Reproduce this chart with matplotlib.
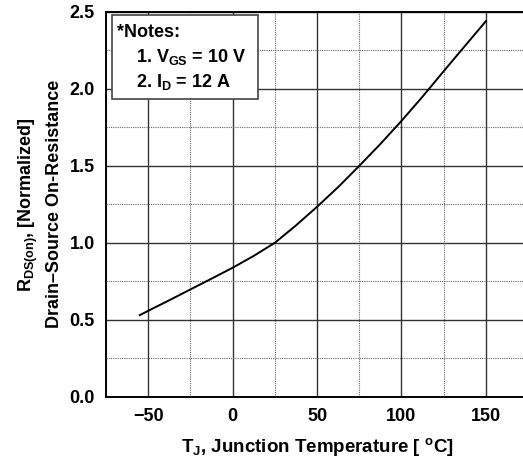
import matplotlib
matplotlib.use("Agg")
import matplotlib.pyplot as plt
from matplotlib.patches import Rectangle
from matplotlib.ticker import MultipleLocator

plt.rcParams["font.family"] = ["Liberation Sans", "DejaVu Sans"]
plt.rcParams["font.weight"] = "bold"
plt.rcParams["mathtext.fontset"] = "custom"
plt.rcParams["mathtext.bf"] = "Liberation Sans:bold"
plt.rcParams["mathtext.rm"] = "Liberation Sans:bold"
plt.rcParams["mathtext.default"] = "bf"

# values
temp = [-55, -50, -37.5, -25, -12.5, 0, 12.5, 25, 37.5, 50, 62.5, 75,
        87.5, 100, 112.5, 125, 137.5, 150]
rds = [0.53, 0.558, 0.627, 0.697, 0.767, 0.838, 0.915, 1.0, 1.113, 1.234,
       1.362, 1.5, 1.642, 1.792, 1.95, 2.115, 2.278, 2.44]

x_ticks = [-50, 0, 50, 100, 150]
y_ticks = [0.0, 0.5, 1.0, 1.5, 2.0, 2.5]

fig = plt.figure(figsize=(5.23, 4.61), dpi=100)
ax = fig.add_axes([0.2027, 0.1395, 0.807, 0.8345])

ax.plot(temp, rds, color="black", lw=1.4, solid_joinstyle="round")

ax.set_xlim(-75, 175)
ax.set_ylim(0, 2.5)
ax.set_xticks(x_ticks)
ax.set_yticks(y_ticks)
ax.set_yticklabels([f"{v:.1f}" for v in y_ticks])
ax.xaxis.set_minor_locator(MultipleLocator(25))
ax.yaxis.set_minor_locator(MultipleLocator(0.25))
ax.tick_params(which="both", length=0, labelsize=13, pad=8)
for lab in ax.get_xticklabels() + ax.get_yticklabels():
    lab.set_fontweight("bold")

ax.grid(which="major", color="#333333", lw=1.0, ls="-")
ax.grid(which="minor", color="#666666", lw=0.8, ls=(0, (1, 1)))
ax.set_axisbelow(True)
for s in ax.spines.values():
    s.set_linewidth(1.4)

ax.set_xlabel(r"T$_{J}$, Junction Temperature [ $^{o}$C]", fontsize=13.5,
              fontweight="bold", labelpad=8)
ax.set_ylabel("R$_{DS(on)}$, [Normalized]\nDrain\u2013Source On-Resistance",
              fontsize=13, fontweight="bold", labelpad=5, linespacing=1.45)

ax.add_patch(Rectangle((0.0135, 0.773), 0.3465, 0.219, transform=ax.transAxes,
                       fc="white", ec="#444444", lw=1.2, zorder=3))
ax.text(0.027, 0.935, "*Notes:", transform=ax.transAxes, va="baseline",
        ha="left", fontsize=13, fontweight="bold", zorder=4)
ax.text(0.07, 0.870, "1. V$_{GS}$ = 10 V", transform=ax.transAxes,
        va="baseline", ha="left", fontsize=13, fontweight="bold", zorder=4)
ax.text(0.07, 0.806, "2. I$_{D}$ = 12 A", transform=ax.transAxes,
        va="baseline", ha="left", fontsize=13, fontweight="bold", zorder=4)

fig.savefig("out.png", dpi=100)
